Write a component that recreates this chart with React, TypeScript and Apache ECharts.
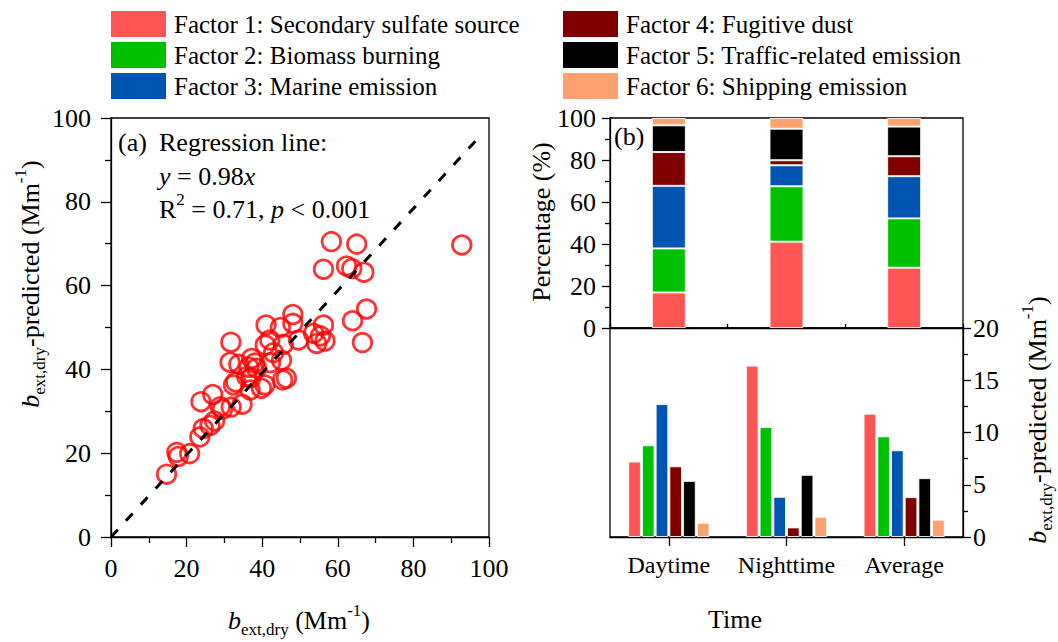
import React, { useEffect, useRef } from "react";
import * as echarts from "echarts";

const serif = "Liberation Serif, Times New Roman, serif";

const categories = ["Daytime", "Nighttime", "Average"];
const factorNames = [
  "Factor 1: Secondary sulfate source",
  "Factor 2: Biomass burning",
  "Factor 3: Marine emission",
  "Factor 4: Fugitive dust",
  "Factor 5: Traffic-related emission",
  "Factor 6: Shipping emission",
];
const factorColors = ["#FF5555", "#00C000", "#0055B0", "#800000", "#000000", "#FFA070"];

// Percentage contribution (%) per category
const pctFactor1 = [16.9, 41.1, 28.7];
const pctFactor2 = [21.0, 26.4, 23.5];
const pctFactor3 = [29.8, 10.0, 20.1];
const pctFactor4 = [16.1, 2.4, 9.5];
const pctFactor5 = [12.7, 15.0, 14.1];
const pctFactor6 = [3.5, 5.1, 4.1];

// Predicted extinction (Mm-1) per category
const predFactor1 = [7.22, 16.4, 11.8];
const predFactor2 = [8.78, 10.52, 9.63];
const predFactor3 = [12.72, 3.85, 8.3];
const predFactor4 = [6.77, 0.92, 3.82];
const predFactor5 = [5.37, 5.95, 5.63];
const predFactor6 = [1.37, 1.94, 1.65];

// Scatter: [measured, predicted]
const scatterPoints: [number, number][] = [
  [14.7, 15.0], [17.4, 20.2], [17.8, 19.2], [20.8, 19.9], [23.5, 23.9], [24.4, 25.9],
  [26.2, 26.6], [27.4, 27.7], [23.8, 32.3], [26.9, 34.0], [28.9, 31.1], [31.8, 31.0],
  [34.7, 31.7], [31.7, 46.5], [31.5, 41.7], [33.8, 41.2], [32.4, 36.3], [35.9, 38.3],
  [37.2, 42.6], [38.5, 40.3], [40.7, 36.3], [39.8, 35.5], [36.8, 35.1], [42.2, 41.6],
  [45.1, 42.2], [45.4, 37.5], [46.4, 37.9], [40.8, 45.8], [41.0, 50.6], [45.6, 46.0],
  [44.8, 50.0], [48.1, 53.1], [48.1, 51.0], [49.6, 47.0], [53.6, 48.6], [54.4, 46.2],
  [56.6, 46.8], [56.2, 50.6], [55.4, 48.0], [63.9, 51.6], [67.6, 54.4], [66.5, 46.4],
  [58.3, 70.5], [65.0, 69.9], [92.8, 69.7], [56.2, 63.9], [62.3, 64.7], [63.7, 64.1],
  [66.9, 63.2], [38.0, 41.5], [36.5, 40.5], [29.5, 30.5], [33.0, 37.0], [37.0, 38.0],
  [43.0, 44.0], [42.0, 47.0],
];
const regressionSlope = 0.98;
const regressionXEnd = 97.5;

const pctSeries = [pctFactor1, pctFactor2, pctFactor3, pctFactor4, pctFactor5, pctFactor6];
const predSeries = [predFactor1, predFactor2, predFactor3, predFactor4, predFactor5, predFactor6];

const rich = {
  n: { fontSize: 26, fontFamily: serif, color: "#000", lineHeight: 36 },
  i: { fontSize: 26, fontFamily: serif, fontStyle: "italic", color: "#000", lineHeight: 36 },
  sub: { fontSize: 17, fontFamily: serif, color: "#000", lineHeight: 17, verticalAlign: "bottom" },
  sup: { fontSize: 17, fontFamily: serif, color: "#000", lineHeight: 17, verticalAlign: "top" },
};

const axisLineStyle = { color: "#000", width: 1.3 };
const labelStyle = { fontSize: 26, fontFamily: serif, color: "#000" };

export default function App() {
  const ref = useRef<HTMLDivElement>(null);
  useEffect(() => {
    if (!ref.current) return;
    const chart = echarts.init(ref.current, undefined, { renderer: "svg" });
    const txt = (x: number, y: number, text: string, extra: any = {}) => ({
      type: "text",
      x,
      y,
      ...extra,
      style: { text, rich, fontFamily: serif, align: extra.align || "left", verticalAlign: "middle", fill: "#000" },
    });
    const legendOf = (names: string[], left: number) => ({
      orient: "vertical",
      top: 11,
      left,
      padding: 0,
      data: names,
      itemWidth: 55,
      itemHeight: 26,
      itemGap: 5,
      icon: "rect",
      selectedMode: false,
      itemStyle: { borderWidth: 0 },
      textStyle: { fontSize: 25, fontFamily: serif, color: "#000", padding: [0, 0, 0, 3] },
    });
    const option: any = {
      animation: false,
      backgroundColor: "#fff",
      textStyle: { fontFamily: serif },
      legend: [legendOf(factorNames.slice(0, 3), 111), legendOf(factorNames.slice(3), 563)],
      grid: [
        { left: 111, top: 118, width: 378, height: 419, show: true, borderColor: "#000", borderWidth: 1.3 },
        { left: 610, top: 118, width: 353, height: 210, show: true, borderColor: "#000", borderWidth: 1.3 },
        { left: 610, top: 328, width: 353, height: 209, show: true, borderColor: "#000", borderWidth: 1.3 },
      ],
      xAxis: [
        {
          type: "value",
          gridIndex: 0,
          min: 0,
          max: 100,
          interval: 20,
          axisLine: { show: true, lineStyle: axisLineStyle },
          axisTick: { show: true, length: 10, lineStyle: axisLineStyle },
          minorTick: { show: true, splitNumber: 2, length: 6, lineStyle: axisLineStyle },
          splitLine: { show: false },
          axisLabel: { ...labelStyle, margin: 18 },
        },
        {
          type: "category",
          gridIndex: 1,
          data: categories,
          axisLine: { show: true, lineStyle: axisLineStyle },
          axisTick: { show: true, length: 4, inside: true, lineStyle: axisLineStyle },
          axisLabel: { show: false },
        },
        {
          type: "category",
          gridIndex: 2,
          data: categories,
          axisLine: { show: true, lineStyle: axisLineStyle },
          axisTick: { show: true, alignWithLabel: true, length: 9, lineStyle: axisLineStyle },
          axisLabel: { fontSize: 24, fontFamily: serif, color: "#000", margin: 16, interval: 0 },
        },
      ],
      yAxis: [
        {
          type: "value",
          gridIndex: 0,
          min: 0,
          max: 100,
          interval: 20,
          axisLine: { show: true, lineStyle: axisLineStyle },
          axisTick: { show: true, length: 10, lineStyle: axisLineStyle },
          minorTick: { show: true, splitNumber: 2, length: 6, lineStyle: axisLineStyle },
          splitLine: { show: false },
          axisLabel: { ...labelStyle, margin: 20 },
        },
        {
          type: "value",
          gridIndex: 1,
          min: 0,
          max: 100,
          interval: 20,
          axisLine: { show: true, lineStyle: axisLineStyle },
          axisTick: { show: true, length: 8, lineStyle: axisLineStyle },
          minorTick: { show: true, splitNumber: 2, length: 5, lineStyle: axisLineStyle },
          splitLine: { show: false },
          axisLabel: { ...labelStyle, margin: 14 },
        },
        {
          type: "value",
          gridIndex: 2,
          position: "right",
          min: 0,
          max: 20,
          interval: 5,
          axisLine: { show: true, lineStyle: axisLineStyle },
          axisTick: { show: true, length: 8, lineStyle: axisLineStyle },
          minorTick: { show: true, splitNumber: 2, length: 5, lineStyle: axisLineStyle },
          splitLine: { show: false },
          axisLabel: { ...labelStyle, margin: 10 },
        },
      ],
      series: [
        {
          type: "scatter",
          xAxisIndex: 0,
          yAxisIndex: 0,
          data: scatterPoints,
          symbol: "circle",
          symbolSize: 18.5,
          itemStyle: { color: "rgba(0,0,0,0)", borderColor: "#FF0000", borderWidth: 2.8 },
          z: 2,
        },
        {
          type: "line",
          xAxisIndex: 0,
          yAxisIndex: 0,
          data: [
            [0, 0],
            [regressionXEnd, regressionSlope * regressionXEnd],
          ],
          symbol: "none",
          lineStyle: { color: "#000", width: 3, type: [10, 12] },
          z: 3,
        },
        ...pctSeries.map((d, k) => ({
          type: "bar",
          name: factorNames[k],
          xAxisIndex: 1,
          yAxisIndex: 1,
          stack: "pct",
          data: d,
          barWidth: 34,
          itemStyle: { color: factorColors[k], borderColor: "rgba(255,255,255,0.85)", borderWidth: 1 },
        })),
        ...predSeries.map((d, k) => ({
          type: "bar",
          name: factorNames[k],
          xAxisIndex: 2,
          yAxisIndex: 2,
          data: d,
          barWidth: 12.7,
          barGap: "8%",
          itemStyle: { color: factorColors[k], borderColor: "rgba(255,255,255,0.85)", borderWidth: 1 },
        })),
      ],
      graphic: [
        txt(118, 142, "{n|(a)}"),
        txt(159, 142, "{n|Regression line:}"),
        txt(159, 176, "{i|y}{n| = 0.98}{i|x}"),
        txt(159, 209, "{n|R}{sup|2}{n| = 0.71, }{i|p}{n| < 0.001}"),
        txt(614, 136, "{n|(b)}"),
        txt(299, 620, "{i|b}{sub|ext,dry}{n| (Mm}{sup|-1}{n|)}", { align: "center" }),
        txt(30, 284, "{i|b}{sub|ext,dry}{n|-predicted (Mm}{sup|-1}{n|)}", { align: "center", rotation: Math.PI / 2 }),
        txt(541, 222, "{n|Percentage (%)}", { align: "center", rotation: Math.PI / 2 }),
        txt(735, 619, "{n|Time}", { align: "center" }),
        txt(1037, 420, "{i|b}{sub|ext,dry}{n|-predicted (Mm}{sup|-1}{n|)}", { align: "center", rotation: Math.PI / 2 }),
      ],
    };
    chart.setOption(option);
    return () => chart.dispose();
  }, []);
  return (
    <div
      ref={ref}
      style={{ position: "fixed", left: 0, top: 0, width: 1058, height: 642, background: "#fff" }}
    />
  );
}
